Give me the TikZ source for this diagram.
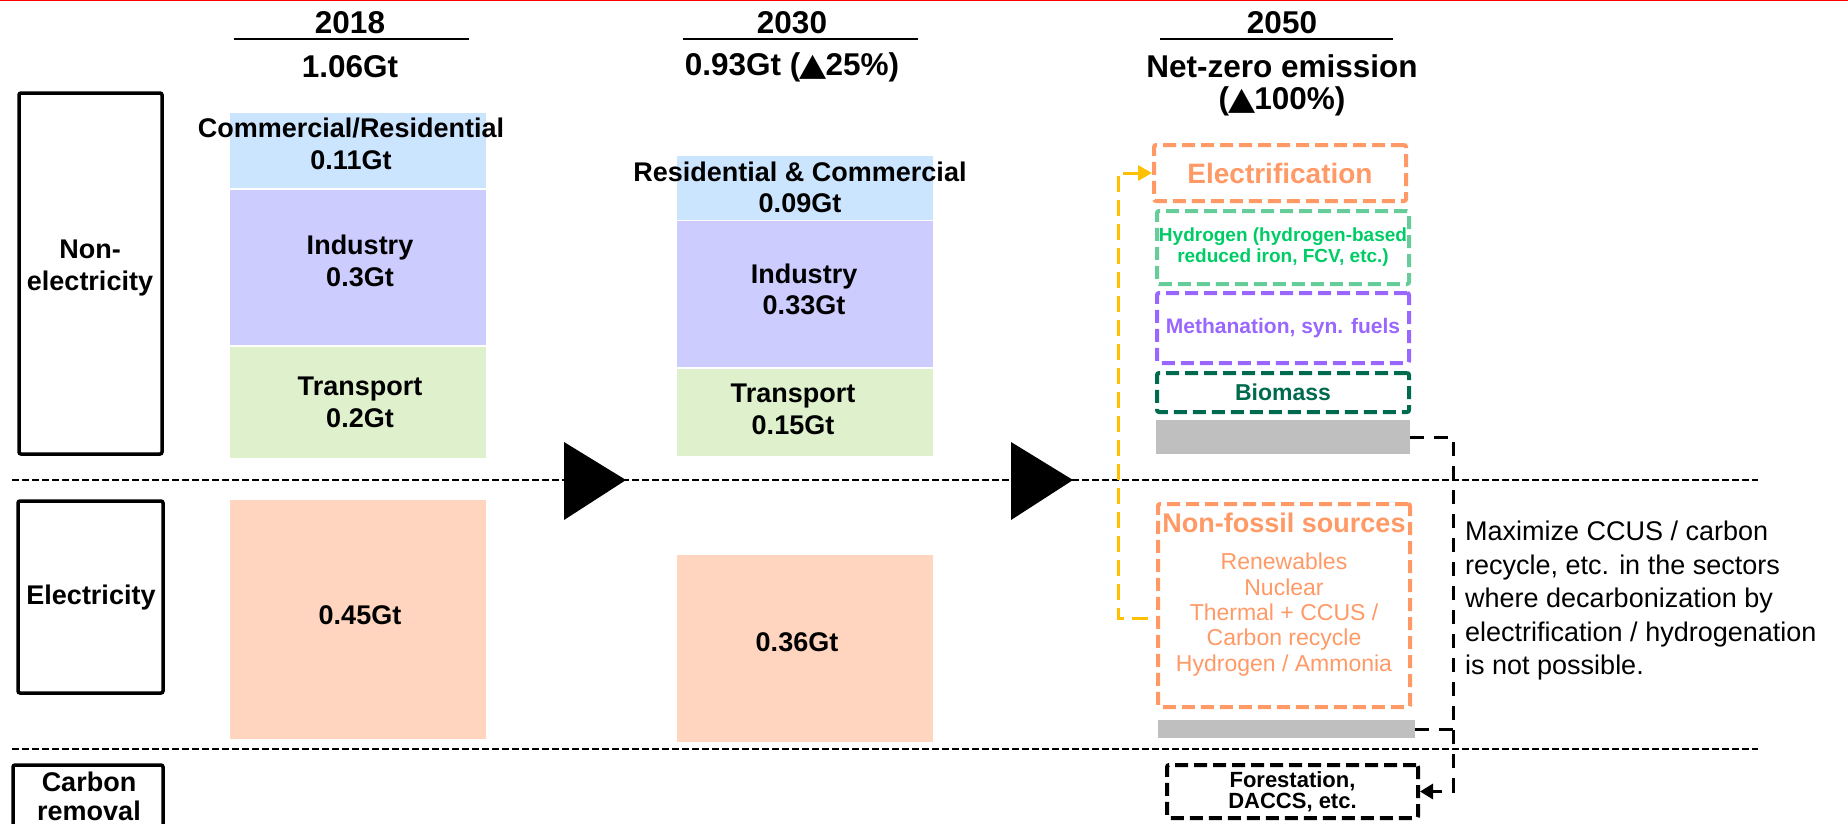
\documentclass[tikz,border=0pt]{standalone}
\usepackage{fontspec}
\setmainfont{Liberation Sans}
\newfontfamily\djv{DejaVu Sans}
\usetikzlibrary{arrows.meta,calc}
\definecolor{cblue}{HTML}{CCE5FF}
\definecolor{cpurp}{HTML}{CCCCFF}
\definecolor{cgreen}{HTML}{DEF0CC}
\definecolor{cpink}{HTML}{FFD5C0}
\definecolor{corange}{HTML}{FF9966}
\definecolor{chydb}{HTML}{66CC99}
\definecolor{chydt}{HTML}{00CC66}
\definecolor{cmeth}{HTML}{9966FF}
\definecolor{cbio}{HTML}{006A4E}
\definecolor{cgray}{HTML}{BFBFBF}
\definecolor{cyel}{HTML}{FFC000}
\newcommand{\uptri}{{\djv\hspace{-1pt}\scalebox{1.12}[1]{▲}\hspace{-1pt}}}
\begin{document}
\begin{tikzpicture}[x=1pt,y=-1pt,
  lblbox/.style={draw=black,line width=3.5pt,rounded corners=2pt,inner sep=0,align=center,
    font=\bfseries\fontsize{27}{32}\selectfont},
  bar/.style={draw=none,inner sep=0},
  txt/.style={inner sep=0,align=center,font=\bfseries\fontsize{27}{32}\selectfont},
  head/.style={inner sep=0,align=center,font=\bfseries\fontsize{31.5}{32}\selectfont},
  dbox/.style={line width=4pt,dash pattern=on 13pt off 6pt,rounded corners=2pt,inner sep=0,align=center},
  sepline/.style={line width=1.5pt,dash pattern=on 7pt off 3pt},
  cdash/.style={line width=3pt,dash pattern=on 14pt off 10pt},
  ydash/.style={draw=cyel,line width=3pt,dash pattern=on 16pt off 8pt},
]
\useasboundingbox (0,0) rectangle (1848,823);
\draw[red,line width=2pt] (0,0) -- (1848,0);

% headers
\node[head] (h18) at (350,23) {2018};
\draw[line width=2pt] (234,39) -- (469,39);
\node[head] (v18) at (350,67) {1.06Gt};
\node[head] (h30) at (792,23) {2030};
\draw[line width=2pt] (683,39) -- (918,39);
\node[head] (v30) at (792,67) {0.93Gt (\uptri25\%)};
\node[head] (h50) at (1282,23) {2050};
\draw[line width=2pt] (1160,39) -- (1393,39);
\node[head,font=\bfseries\fontsize{31.5}{32}\selectfont] (v50) at (1282,85) {Net-zero emission\\(\uptri100\%)};

% left labels
\node[lblbox,minimum width=143pt,minimum height=361pt] (lne) at (90.5,273.5) {};
\node[txt] (lnet) at (90,268) {Non-\\electricity};
\node[lblbox,minimum width=145pt,minimum height=192pt] (lel) at (90.5,597) {};
\node[txt] (lelt) at (91,598) {Electricity};
\node[lblbox,minimum width=150pt,minimum height=96pt] (lcr) at (88,813) {};
\node[txt,font=\bfseries\fontsize{27}{29}\selectfont] (lcrt) at (89,796) {Carbon\\removal};

% separators
\draw[sepline] (12,480) -- (1758,480);
\draw[sepline] (12,749) -- (1758,749);

% 2018 column
\node[bar,fill=cblue,minimum width=256pt,minimum height=75pt] (b18c) at (358,150.5) {};
\node[bar,fill=cpurp,minimum width=256pt,minimum height=155pt] (b18i) at (358,267.5) {};
\node[bar,fill=cgreen,minimum width=256pt,minimum height=111pt] (b18t) at (358,402.5) {};
\node[bar,fill=cpink,minimum width=256pt,minimum height=239pt] (b18e) at (358,619.5) {};
\node[txt] (t18c) at (351,144) {Commercial/Residential\\0.11Gt};
\node[txt] (t18i) at (360,261) {Industry\\0.3Gt};
\node[txt] (t18t) at (360,402) {Transport\\0.2Gt};
\node[txt] (t18e) at (360,615) {0.45Gt};

% 2030 column
\node[bar,fill=cblue,minimum width=256pt,minimum height=64pt] (b30c) at (805,188) {};
\node[bar,fill=cpurp,minimum width=256pt,minimum height=146pt] (b30i) at (805,294) {};
\node[bar,fill=cgreen,minimum width=256pt,minimum height=87pt] (b30t) at (805,412.5) {};
\node[bar,fill=cpink,minimum width=256pt,minimum height=187pt] (b30e) at (805,648.5) {};
\node[txt,font=\bfseries\fontsize{27}{31}\selectfont] (t30c) at (800,187.5) {Residential \& Commercial\\0.09Gt};
\node[txt,font=\bfseries\fontsize{27}{31}\selectfont] (t30i) at (804,289.5) {Industry\\0.33Gt};
\node[txt,font=\bfseries\fontsize{27}{32}\selectfont] (t30t) at (793,409) {Transport\\0.15Gt};
\node[txt] (t30e) at (797,642) {0.36Gt};

% transition arrows
\fill (564,442) -- (564,520) -- (626,480) -- cycle;
\fill (1011,442) -- (1011,520) -- (1073,480) -- cycle;

% 2050 column
\node[dbox,draw=corange,minimum width=252pt,minimum height=56pt,text=corange,
  font=\bfseries\fontsize{28}{30}\selectfont] (elec) at (1280,173) {Electrification};
\node[dbox,draw=chydb,minimum width=252pt,minimum height=73pt,text=chydt,
  font=\bfseries\fontsize{19}{21}\selectfont] (hyd) at (1283,247.5) {Hydrogen (hydrogen-based\\reduced iron, FCV, etc.)};
\node[dbox,draw=cmeth,minimum width=252pt,minimum height=70pt,text=cmeth,
  font=\bfseries\fontsize{21}{23}\selectfont] (meth) at (1283,328) {Methanation, syn. fuels};
\node[dbox,draw=cbio,minimum width=252pt,minimum height=39pt,text=cbio,
  font=\bfseries\fontsize{23}{25}\selectfont] (bio) at (1283,392.5) {Biomass};
\node[bar,fill=cgray,minimum width=254pt,minimum height=34pt] (g1) at (1283,437) {};
\node[dbox,draw=corange,minimum width=252pt,minimum height=203pt] (nf) at (1284,605.5) {};
\node[txt,text=corange] (nft) at (1284,523) {Non-fossil sources};
\node[inner sep=0,align=center,text=corange,font=\fontsize{23}{25.3}\selectfont] (nfi) at (1284,614.5)
  {Renewables\\Nuclear\\Thermal + CCUS /\\Carbon recycle\\Hydrogen / Ammonia};
\node[bar,fill=cgray,minimum width=257pt,minimum height=18pt] (g2) at (1286.5,729) {};
\node[dbox,draw=black,minimum width=251pt,minimum height=53pt,
  font=\bfseries\fontsize{22}{21}\selectfont] (fore) at (1292.5,791.5) {Forestation,\\DACCS, etc.};

% explanatory text
\node[inner sep=0,align=left,anchor=west,font=\fontsize{27}{33.5}\selectfont] (maxt) at (1465,601)
  {Maximize CCUS / carbon\\recycle, etc. in the sectors\\where decarbonization by\\electrification / hydrogenation\\is not possible.};

% connectors
\coordinate (jt) at (1453,437);
\draw[cdash,-{Triangle[length=13pt,width=15pt]}] (g1.east) -- (jt) |- (fore.east);
\draw[cdash] (g2.east) -- (g2.east -| jt);
\coordinate (ys) at (1148,618);
\draw[ydash,-{Triangle[length=14pt,width=15pt,fill=cyel]}] (ys) -- (1118,618) |- (elec.west);
\end{tikzpicture}
\end{document}
